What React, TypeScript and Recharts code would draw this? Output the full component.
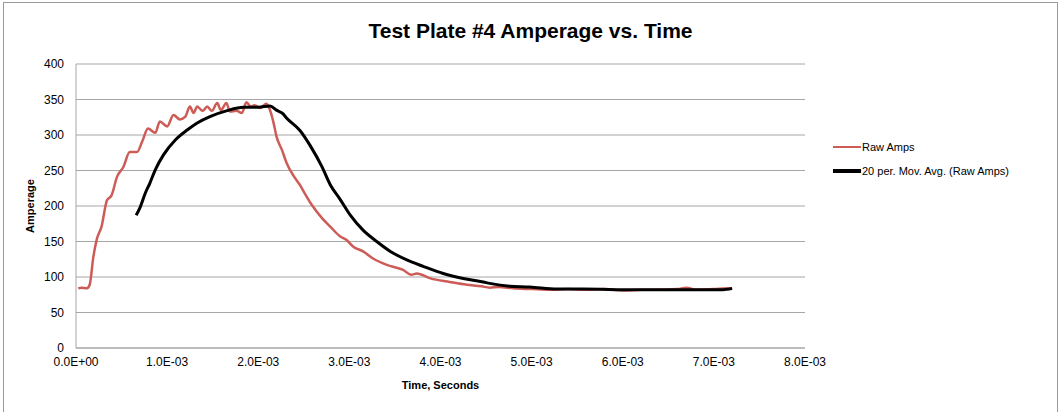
import React from 'react';
import { LineChart, Line, XAxis, YAxis, CartesianGrid } from 'recharts';

// Raw current samples (time in seconds, amperage)
const rawTime = [
  0.025, 0.06, 0.12, 0.15, 0.19, 0.23, 0.28, 0.34, 0.39, 0.45, 0.52, 0.59, 0.67, 0.73, 0.79, 0.87,
  0.92, 1.0, 1.07, 1.14, 1.2, 1.25, 1.29, 1.33, 1.39, 1.44, 1.49, 1.55, 1.59, 1.65, 1.69, 1.76,
  1.82, 1.87, 1.92, 1.96, 2.02, 2.09, 2.12, 2.17, 2.2, 2.26, 2.31, 2.39, 2.46, 2.5, 2.59, 2.7,
  2.79, 2.9, 2.97, 3.04, 3.15, 3.26, 3.41, 3.59, 3.68, 3.74, 3.89, 4.1, 4.29, 4.45, 4.54, 4.64,
  4.8, 5.0, 5.2, 5.4, 5.6, 5.8, 6.0, 6.2, 6.4, 6.6, 6.7, 6.8, 7.0, 7.15, 7.2,
].map((ms) => ms / 1000);
const rawAmps = [
  84, 85, 84, 89, 128, 154, 171, 208, 215, 241, 255, 276, 276, 292, 309, 303,
  319, 312, 328, 322, 326, 340, 331, 340, 334, 340, 334, 345, 335, 345, 333, 334,
  331, 346, 340, 342, 338, 344, 338, 316, 298, 279, 261, 242, 229, 220, 201, 183,
  171, 157, 152, 143, 136, 126, 117, 110, 103, 105, 98, 93, 89, 87, 85, 86,
  84, 83, 82, 83, 82, 83, 81, 82, 82, 83, 85, 82, 83, 84, 83,
];

// 20-period moving average trendline
const avgTime = [
  0.66, 0.7, 0.76, 0.81, 0.87, 0.96, 1.09, 1.22, 1.33, 1.47, 1.65, 1.84, 2.0, 2.13, 2.2, 2.27,
  2.31, 2.46, 2.57, 2.7, 2.79, 2.9, 3.01, 3.15, 3.3, 3.45, 3.63, 3.81, 4.03, 4.25, 4.47, 4.54,
  4.76, 4.98, 5.28, 5.57, 6.12, 6.67, 7.1, 7.2,
].map((ms) => ms / 1000);
const avgAmps = [
  187, 197, 218, 232, 251, 272, 293, 307, 317, 326, 334, 339, 339, 341, 335, 330,
  324, 306, 285, 255, 230, 209, 187, 166, 150, 136, 124, 115, 105, 98, 93, 91,
  87, 86, 83, 83, 82, 82, 82, 84,
];

const xTicks = [0, 0.001, 0.002, 0.003, 0.004, 0.005, 0.006, 0.007, 0.008];
const yTicks = [0, 50, 100, 150, 200, 250, 300, 350, 400];

const rawData = rawTime.map((t, i) => ({ t, amps: rawAmps[i] }));
const avgData = avgTime.map((t, i) => ({ t, amps: avgAmps[i] }));

const FONT = '"Liberation Sans", Arial, sans-serif';
const GRID = '#a6a6a6';
const RAW_COLOR = '#cd5c57';
const AVG_COLOR = '#000';

const legendItems = [
  { label: 'Raw Amps', color: RAW_COLOR, thick: 2.5 },
  { label: '20 per. Mov. Avg. (Raw Amps)', color: AVG_COLOR, thick: 3.5 },
];

const fmtTime = (v: number) => (v === 0 ? '0.0E+00' : `${(v * 1000).toFixed(1)}E-03`);

export default function App() {
  return (
    <div style={{ position: 'absolute', left: 0, top: 0, width: 1061, height: 412, background: '#fff', overflow: 'hidden' }}>
      <div
        style={{
          position: 'absolute',
          left: 3,
          top: 2,
          width: 1053,
          height: 420,
          border: '1px solid #9a9a9a',
        }}
      />
      <div
        style={{
          position: 'absolute',
          left: 0,
          width: 1061,
          top: 19,
          textAlign: 'center',
          fontFamily: FONT,
          fontWeight: 'bold',
          fontSize: 21,
        }}
      >
        Test Plate #4 Amperage vs. Time
      </div>
      <div style={{ position: 'absolute', left: 0, top: 0 }}>
        <LineChart width={1061} height={412} margin={{ top: 64, right: 256, left: 0, bottom: 0 }}>
          <CartesianGrid vertical={false} stroke={GRID} strokeWidth={1} />
          <XAxis
            type="number"
            dataKey="t"
            domain={[0, 0.008]}
            ticks={xTicks}
            tickFormatter={fmtTime}
            height={64}
            tickLine={false}
            tickSize={0}
            tickMargin={9}
            axisLine={{ stroke: GRID }}
            tick={{ fill: '#000', fontSize: 12, fontFamily: FONT }}
            allowDataOverflow
            label={{
              value: 'Time, Seconds',
              position: 'insideTop',
              offset: 33,
              style: { fill: '#000', fontSize: 11, fontWeight: 'bold', fontFamily: FONT },
            }}
          />
          <YAxis
            type="number"
            domain={[0, 400]}
            ticks={yTicks}
            width={76}
            tickLine={false}
            tickSize={0}
            tickMargin={12}
            axisLine={{ stroke: GRID }}
            tick={{ fill: '#000', fontSize: 12, fontFamily: FONT }}
            label={{
              value: 'Amperage',
              angle: -90,
              position: 'insideLeft',
              offset: 30,
              style: { fill: '#000', fontSize: 11, fontWeight: 'bold', fontFamily: FONT, textAnchor: 'middle' },
            }}
          />
          <Line
            data={rawData}
            dataKey="amps"
            name="Raw Amps"
            type="monotone"
            stroke={RAW_COLOR}
            strokeWidth={2.5}
            dot={false}
            isAnimationActive={false}
          />
          <Line
            data={avgData}
            dataKey="amps"
            name="20 per. Mov. Avg. (Raw Amps)"
            type="monotone"
            stroke={AVG_COLOR}
            strokeWidth={3}
            dot={false}
            isAnimationActive={false}
          />
        </LineChart>
      </div>
      <div style={{ position: 'absolute', left: 833, top: 135, fontFamily: FONT, fontSize: 11, color: '#000' }}>
        {legendItems.map((it) => (
          <div key={it.label} style={{ display: 'flex', alignItems: 'center', height: 24 }}>
            <span style={{ display: 'inline-block', width: 28, height: it.thick, background: it.color, marginRight: 1 }} />
            <span>{it.label}</span>
          </div>
        ))}
      </div>
    </div>
  );
}
